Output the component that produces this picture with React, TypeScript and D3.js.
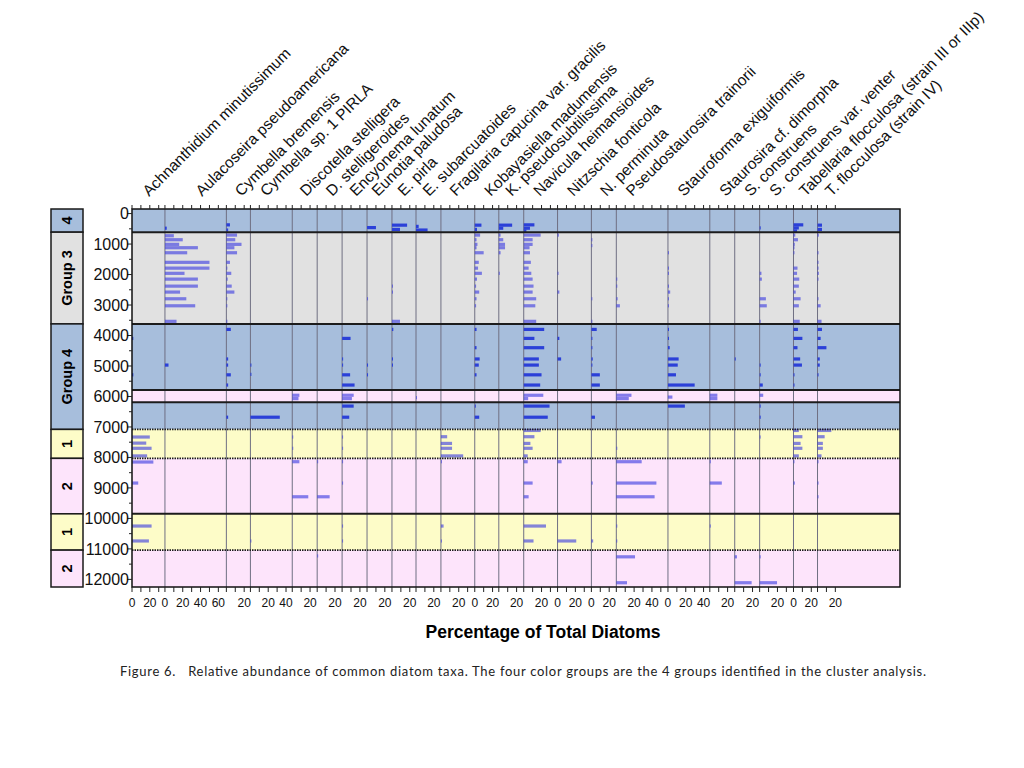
import React, { useEffect, useRef } from 'react';
import * as d3 from 'd3';

// Taxa, in panel order (left to right)
const TAXA = [
  'Achnanthidium minutissimum',
  'Aulacoseira pseudoamericana',
  'Cymbella bremensis',
  'Cymbella sp. 1 PIRLA',
  'Discotella stelligera',
  'D. stelligeroides',
  'Encyonema lunatum',
  'Eunotia paludosa',
  'E. pirla',
  'E. subarcuatoides',
  'Fragilaria capucina var. gracilis',
  'Kobayasiella madumensis',
  'K. pseudosubtilissima',
  'Navicula heimansioides',
  'Nitzschia fonticola',
  'N. perminuta',
  'Pseudostaurosira trainorii',
  'Stauroforma exiguiformis',
  'Staurosira cf. dimorpha',
  'S. construens',
  'S. construens var. venter',
  'Tabellaria flocculosa (strain III or IIIp)',
  'T. flocculosa (strain IV)',
];

// x-axis maximum (%) of each panel
const AXIS_MAX = [37, 69, 27, 47, 28, 28, 28, 28, 27, 28, 38, 27, 28, 38, 38, 28, 58, 47, 28, 28, 38, 27, 23];

// [depth, % of total diatoms]
const achnanthidium = [[4095, 1.5], [5290, 1.5], [7330, 20], [7530, 16], [7700, 22], [7950, 17], [8150, 24], [8840, 7], [10250, 22], [10740, 19]];
const aulacoseira = [[480, 2], [727, 10], [858, 20], [1010, 16], [1120, 37], [1285, 25], [1600, 50], [1790, 50], [1960, 22], [2150, 37], [2380, 37], [2575, 17], [2795, 24], [3025, 34], [3535, 13], [4970, 4]];
const cymbellaBremensis = [[370, 4], [540, 2], [705, 12], [858, 10], [1010, 17], [1120, 9], [1285, 12], [1600, 4], [1790, 1], [1960, 5.5], [2150, 1.5], [2380, 6], [2575, 9], [2795, 1], [3025, 1], [3535, 1], [3800, 5], [4770, 2], [4970, 2], [5290, 5], [5625, 2], [6680, 2]];
const cymbellaSp1 = [[4970, 0.6], [5275, 0.6], [6680, 33], [10740, 0.5]];
const discotella = [[5960, 8], [6070, 7], [7330, 0.5], [7700, 0.5], [8140, 8], [9290, 18]];
const dStelligeroides = [[8140, 1], [9290, 14], [11230, 0.6]];
const encyonema = [[4095, 9.5], [4770, 1], [4970, 1], [5290, 9], [5625, 14], [5960, 13], [6070, 11], [6315, 13], [6680, 8], [7330, 1], [7700, 1], [8140, 1], [8840, 1], [10250, 0.6], [10740, 0.6]];
const eunotiaPaludosa = [[460, 10], [2795, 0.6], [4970, 1], [5290, 1]];
const ePirla = [[380, 17], [520, 9], [2380, 1], [2575, 1], [3535, 9], [3800, 1.5], [4770, 1], [4970, 1]];
const eSubarcuatoides = [[420, 3], [540, 13], [6040, 0.6]];
const fragilaria = [[7320, 7], [7540, 12.5], [7700, 12.5], [7950, 25], [8140, 0.6], [10250, 3], [10740, 0.5]];
const kobMadumensis = [[380, 7.5], [520, 2.5], [705, 6], [858, 2], [1010, 3], [1120, 2], [1285, 10], [1600, 4.5], [1790, 3.7], [1960, 8], [2150, 2.5], [2380, 1.5], [2575, 5], [2795, 2], [3025, 1.5], [3800, 2], [4400, 2], [4770, 5.5], [4970, 4.5], [5290, 2], [6315, 1], [6680, 5]];
const kPseudosub = [[380, 15], [480, 5], [705, 2], [858, 5], [1010, 7], [1120, 7], [1285, 2], [1960, 1]];
const navicula = [[370, 12], [480, 7], [570, 3], [705, 19], [858, 10], [1010, 10], [1120, 6.5], [1285, 7], [1600, 8], [1790, 5.5], [1960, 8.5], [2150, 10], [2380, 11], [2575, 10], [2795, 14], [3025, 13], [3535, 14], [3800, 23], [4095, 12], [4400, 23], [4770, 17], [4970, 17], [5290, 20], [5625, 18.5], [5960, 22], [6070, 5], [6315, 29], [6680, 27], [7115, 19], [7320, 12], [7540, 7.5], [7700, 10], [7950, 4.5], [8140, 4.5], [8840, 10], [9290, 5.5], [10250, 25], [10740, 11]];
const nitzschiaFonticola = [[705, 1.5], [1960, 1], [2575, 2], [4095, 2], [4770, 4], [8140, 4.5], [10740, 21]];
const nPerminuta = [[858, 1], [1050, 1], [2795, 1], [3535, 1], [3800, 6], [4095, 1], [4400, 1], [4770, 1.5], [4970, 1], [5290, 9.5], [5625, 9.5], [6680, 4], [8840, 1.5], [10740, 2]];
const pseudostaurosira = [[2150, 1], [2380, 1], [2795, 1.5], [3025, 4], [5960, 17], [6070, 14], [7700, 0.5], [8140, 28.5], [8840, 45], [9290, 43], [10250, 1], [10740, 0.5], [11260, 21], [12110, 12]];
const stauroforma = [[1285, 1], [1790, 1], [1960, 1], [2380, 1], [2575, 2.5], [2795, 1], [3025, 1], [3800, 1], [4095, 1], [4400, 2], [4770, 12], [4970, 11], [5290, 9], [5625, 30], [6020, 5], [6315, 19]];
const staurosiraDimorpha = [[5960, 8.5], [6070, 8.5], [8140, 1], [8840, 13.5], [10250, 0.5]];
const sConstruens = [[4770, 0.5], [11260, 2.5], [12110, 19]];
const sConstruensVenter = [[470, 1], [1960, 2], [2150, 2.5], [2795, 7], [3025, 8], [3535, 1], [4970, 1], [5290, 1], [5625, 3.5], [5960, 4], [6315, 0.5], [6680, 0.5], [7330, 0.4], [11260, 1], [12110, 19.5]];
const tabellariaIII = [[370, 11], [470, 6], [570, 4], [705, 2], [858, 5], [1010, 1.5], [1120, 1], [1285, 1], [1790, 4.5], [1960, 4], [2150, 6.5], [2380, 6], [2575, 2.5], [2795, 8], [3025, 6], [3535, 7], [3800, 5], [4095, 10], [4400, 4.5], [4770, 7.5], [4970, 9.5], [5290, 1], [5625, 0.5], [7115, 6], [7320, 10], [7540, 8], [7700, 10], [7950, 6], [8140, 1], [8840, 1.5]];
const tabellariaIV = [[380, 5], [520, 5], [705, 1.5], [1285, 1], [1600, 1], [1790, 1], [1960, 1.5], [2150, 1], [2795, 1], [3025, 3.5], [3535, 4.5], [3800, 5], [4095, 3.5], [4400, 10], [4770, 2.5], [4970, 2.5], [5290, 0.5], [7115, 15.5], [7320, 8], [7540, 6], [7700, 6], [7950, 4.5], [8140, 1], [8840, 1], [9290, 1]];

const SERIES = [
  achnanthidium, aulacoseira, cymbellaBremensis, cymbellaSp1, discotella, dStelligeroides,
  encyonema, eunotiaPaludosa, ePirla, eSubarcuatoides, fragilaria, kobMadumensis, kPseudosub,
  navicula, nitzschiaFonticola, nPerminuta, pseudostaurosira, stauroforma, staurosiraDimorpha,
  sConstruens, sConstruensVenter, tabellariaIII, tabellariaIV,
];

// cluster zones down the core
const BAND_EDGES = [-150, 610, 3620, 5790, 6190, 7080, 8030, 9850, 11040, 12250];
const BAND_GROUPS = [4, 3, 4, 2, 4, 1, 2, 1, 2];
const DOTTED_EDGES = [7080, 8030, 11040];

// labelled boxes on the left
const BOX_EDGES = [-150, 610, 3620, 7080, 8030, 9850, 11040, 12250];
const BOX_GROUPS = [4, 3, 4, 1, 2, 1, 2];
const BOX_LABELS = ['4', 'Group 3', 'Group 4', '1', '2', '1', '2'];

const DEPTH_TICKS = d3.range(0, 12001, 1000);

// layout
const PLOT = { left: 132, right: 900, top: 209, bottom: 587 };
const PANEL_RIGHT = 838;
const LABEL_DX = [17, 37, 15, 16, 14, 15, 14, 11, 12, 13, 15, 16, 13, 16, 16, 15, 16, 16, 16, 16, 16, 12, 14];
const FILL: Record<number, string> = { 1: '#fdfcc8', 2: '#fde4fb', 3: '#e1e1e1', 4: '#a7bedc' };
const FONT = '"Liberation Sans", Arial, sans-serif';

const App: React.FC = () => {
  const svgRef = useRef<SVGSVGElement>(null);

  useEffect(() => {
    const svg = d3.select(svgRef.current);
    svg.selectAll('*').remove();

    const offsets = Array.from(d3.cumsum([0, ...AXIS_MAX]));
    const x = d3.scaleLinear().domain([0, d3.sum(AXIS_MAX)]).range([PLOT.left, PANEL_RIGHT]);
    const y = d3.scaleLinear()
      .domain([BAND_EDGES[0], BAND_EDGES[BAND_EDGES.length - 1]])
      .range([PLOT.top, PLOT.bottom]);

    const groupAt = (d: number) => {
      const i = d3.bisectRight(BAND_EDGES, d) - 1;
      return BAND_GROUPS[Math.max(0, Math.min(BAND_GROUPS.length - 1, i))];
    };

    // Background zones
    svg.append('g').selectAll('rect')
      .data(BAND_GROUPS)
      .enter().append('rect')
      .attr('x', PLOT.left)
      .attr('width', PLOT.right - PLOT.left)
      .attr('y', (_, i) => y(BAND_EDGES[i]))
      .attr('height', (_, i) => y(BAND_EDGES[i + 1]) - y(BAND_EDGES[i]))
      .attr('fill', g => FILL[g]);

    // Panel separators
    svg.append('g').selectAll('line')
      .data(offsets.slice(1, AXIS_MAX.length))
      .enter().append('line')
      .attr('x1', d => x(d)).attr('x2', d => x(d))
      .attr('y1', PLOT.top).attr('y2', PLOT.bottom)
      .attr('stroke', '#6f6f82')
      .attr('stroke-width', 1);

    // Bars
    const bars = svg.append('g');
    SERIES.forEach((series, p) => {
      const x0 = offsets[p];
      bars.selectAll(`.bar-${p}`)
        .data(series)
        .enter().append('rect')
        .attr('class', `bar-${p}`)
        .attr('x', x(x0))
        .attr('width', d => Math.max(1, x(x0 + d[1]) - x(x0)))
        .attr('y', d => y(d[0]) - 1.6)
        .attr('height', 3.2)
        .attr('fill', d => groupAt(d[0]) === 4 ? '#2b40d8' : '#3a3ae0')
        .attr('fill-opacity', d => groupAt(d[0]) === 4 ? 1 : 0.62);
    });

    // Zone boundaries
    svg.append('g').selectAll('line')
      .data(BAND_EDGES.slice(1, -1))
      .enter().append('line')
      .attr('x1', PLOT.left).attr('x2', PLOT.right)
      .attr('y1', d => y(d)).attr('y2', d => y(d))
      .attr('stroke', '#1c1c1c')
      .attr('stroke-width', d => DOTTED_EDGES.includes(d) ? 1.8 : 2)
      .attr('stroke-dasharray', d => DOTTED_EDGES.includes(d) ? '1.5,1' : null);

    svg.append('rect')
      .attr('x', PLOT.left).attr('y', PLOT.top)
      .attr('width', PLOT.right - PLOT.left).attr('height', PLOT.bottom - PLOT.top)
      .attr('fill', 'none').attr('stroke', '#111').attr('stroke-width', 1.5);

    // Percentage axes, one per panel (ticks top and bottom, labels bottom)
    const axis = svg.append('g').attr('font-family', FONT).attr('font-size', 12).attr('fill', '#111');
    let lastLabelX = -Infinity;
    AXIS_MAX.forEach((max, p) => {
      const ticks = d3.range(0, max, 10);
      ticks.forEach(v => {
        const tx = x(offsets[p] + v);
        axis.append('line').attr('x1', tx).attr('x2', tx)
          .attr('y1', PLOT.bottom).attr('y2', PLOT.bottom + 5)
          .attr('stroke', '#222').attr('stroke-width', 1);
        axis.append('line').attr('x1', tx).attr('x2', tx)
          .attr('y1', PLOT.top).attr('y2', PLOT.top - 4)
          .attr('stroke', '#222').attr('stroke-width', 1);
        if (v % 20 === 0) {
          if (v === 0 && tx - lastLabelX < 12) return;
          axis.append('text')
            .attr('x', tx).attr('y', PLOT.bottom + 20)
            .attr('text-anchor', 'middle')
            .text(v);
          lastLabelX = tx;
        }
      });
    });

    // Depth axis
    const yAxis = svg.append('g').attr('font-family', FONT).attr('font-size', 16).attr('fill', '#111');
    d3.range(0, 12001, 500).forEach(d => {
      yAxis.append('line')
        .attr('x1', PLOT.left).attr('x2', PLOT.left - (d % 1000 === 0 ? 5 : 3))
        .attr('y1', y(d)).attr('y2', y(d))
        .attr('stroke', '#222');
    });
    yAxis.selectAll('text')
      .data(DEPTH_TICKS)
      .enter().append('text')
      .attr('x', PLOT.left - 3)
      .attr('y', d => y(d))
      .attr('dy', '0.36em')
      .attr('text-anchor', 'end')
      .text(d => d);

    // Group boxes
    const boxes = svg.append('g');
    BOX_LABELS.forEach((label, i) => {
      const y0 = y(BOX_EDGES[i]);
      const y1 = y(BOX_EDGES[i + 1]);
      boxes.append('rect')
        .attr('x', 51).attr('y', y0)
        .attr('width', 32).attr('height', y1 - y0)
        .attr('fill', FILL[BOX_GROUPS[i]])
        .attr('stroke', '#1a1a1a').attr('stroke-width', 1.5);
      const cy = (y0 + y1) / 2;
      boxes.append('text')
        .attr('transform', `translate(67,${cy}) rotate(-90)`)
        .attr('text-anchor', 'middle')
        .attr('dy', '0.36em')
        .attr('font-family', FONT)
        .attr('font-weight', 'bold')
        .attr('font-size', 14.5)
        .text(label);
    });

    // Taxon names
    svg.append('g').selectAll('text')
      .data(TAXA)
      .enter().append('text')
      .attr('transform', (_, i) => `translate(${x(offsets[i]) + LABEL_DX[i]},197) rotate(-45)`)
      .attr('font-family', FONT)
      .attr('font-size', 15.5)
      .attr('fill', '#111')
      .text(d => d);

    // Axis title
    svg.append('text')
      .attr('x', 543).attr('y', 638)
      .attr('text-anchor', 'middle')
      .attr('font-family', FONT)
      .attr('font-weight', 'bold')
      .attr('font-size', 17.5)
      .text('Percentage of Total Diatoms');

    // Caption
    svg.append('text')
      .attr('x', 120).attr('y', 676)
      .attr('font-family', 'Lato, "Open Sans", sans-serif')
      .attr('font-size', 13)
      .attr('fill', '#222')
      .attr('textLength', 806)
      .attr('lengthAdjust', 'spacing')
      .style('white-space', 'pre')
      .text('Figure 6.   Relative abundance of common diatom taxa. The four color groups are the 4 groups identified in the cluster analysis.');
  }, []);

  return (
    <svg
      ref={svgRef}
      width={1024}
      height={768}
      style={{ position: 'absolute', left: 0, top: 0, background: '#fff' }}
    />
  );
};

export default App;
